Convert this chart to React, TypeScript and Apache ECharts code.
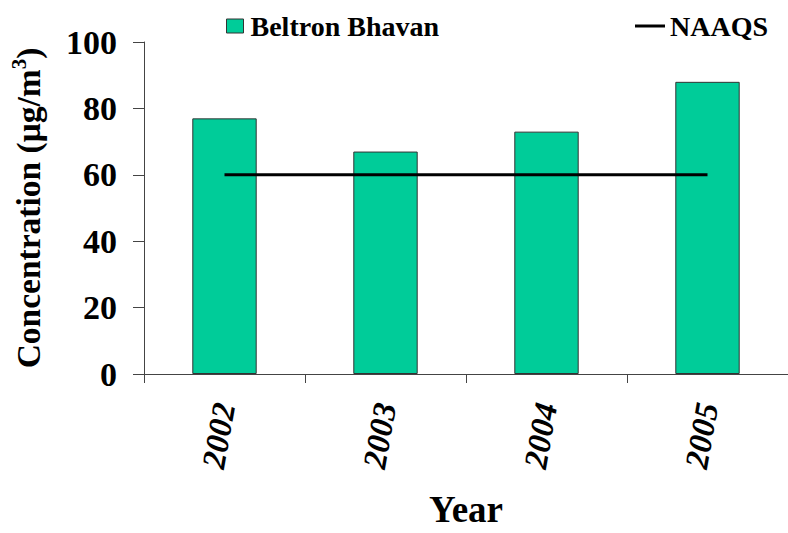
import React, { useEffect, useRef } from "react";
import * as echarts from "echarts";

const years = ["2002", "2003", "2004", "2005"];
const beltronBhavan = [77, 67, 73, 88];
const naaqs = [60, 60, 60, 60];
const yTicks = { min: 0, max: 100, interval: 20 };

const FONT = "'Liberation Serif', 'Times New Roman', serif";

export default function App() {
  const ref = useRef<HTMLDivElement>(null);
  useEffect(() => {
    document.body.style.margin = "0";
    const chart = echarts.init(ref.current!, null, { renderer: "svg" });
    chart.setOption({
      animation: false,
      backgroundColor: "#ffffff",
      textStyle: { fontFamily: FONT, color: "#000" },
      legend: [
        {
          data: [{ name: "Beltron Bhavan", icon: "rect" }],
          left: 221,
          top: 7,
          itemWidth: 17,
          itemHeight: 14,
          itemStyle: { borderColor: "#333", borderWidth: 1 },
          textStyle: { fontFamily: FONT, fontWeight: "bold", fontSize: 28, color: "#000", padding: [0, 0, 0, 2] },
        },
        {
          data: [{ name: "NAAQS", icon: "rect" }],
          left: 630,
          top: 7,
          itemWidth: 30,
          itemHeight: 3,
          textStyle: { fontFamily: FONT, fontWeight: "bold", fontSize: 28, color: "#000" },
        },
      ],
      grid: { left: 142, width: 652, top: 42, bottom: 149, containLabel: false },
      xAxis: {
        type: "category",
        data: years,
        boundaryGap: true,
        name: "Year",
        nameLocation: "middle",
        nameGap: 117,
        nameTextStyle: { fontFamily: FONT, fontWeight: "bold", fontSize: 37, color: "#000" },
        axisLine: { lineStyle: { color: "#444", width: 1 } },
        axisTick: { show: true, length: 9, alignWithLabel: false, lineStyle: { color: "#444" } },
        axisLabel: {
          rotate: 80,
          margin: 29,
          fontFamily: FONT,
          fontStyle: "italic",
          fontWeight: "bold",
          fontSize: 33,
          color: "#000",
        },
      },
      yAxis: {
        type: "value",
        min: yTicks.min,
        max: yTicks.max,
        interval: yTicks.interval,
        name: "{a|Concentration (μg/m}{s|3}{a|)}",
        nameLocation: "middle",
        nameGap: 96,
        nameRotate: 90,
        nameTextStyle: {
          rich: {
            a: { fontFamily: FONT, fontWeight: "bold", fontSize: 33.5, color: "#000", lineHeight: 40 },
            s: { fontFamily: FONT, fontWeight: "bold", fontSize: 21, color: "#000", verticalAlign: "top", lineHeight: 40 },
          },
        },
        axisLine: { show: true, lineStyle: { color: "#444", width: 1 } },
        axisTick: { show: true, length: 11, inside: false, lineStyle: { color: "#444" } },
        splitLine: { show: false },
        axisLabel: {
          margin: 27,
          fontFamily: FONT,
          fontWeight: "bold",
          fontSize: 34,
          color: "#000",
        },
      },
      series: [
        {
          name: "Beltron Bhavan",
          type: "bar",
          data: beltronBhavan,
          barWidth: "40%",
          itemStyle: { color: "#00CC99", borderColor: "#333", borderWidth: 1 },
        },
        {
          name: "NAAQS",
          type: "line",
          data: naaqs,
          showSymbol: false,
          symbol: "none",
          lineStyle: { color: "#000", width: 3 },
          itemStyle: { color: "#000" },
        },
      ],
    });
    return () => chart.dispose();
  }, []);
  return <div ref={ref} style={{ width: 788, height: 533 }} />;
}
